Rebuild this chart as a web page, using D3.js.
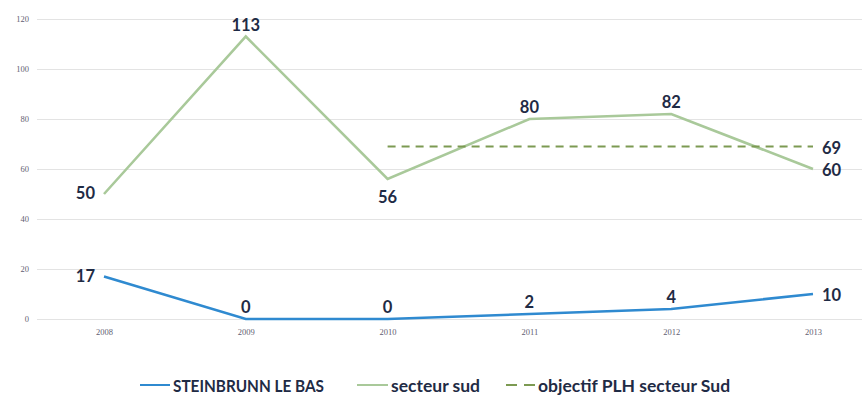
<!DOCTYPE html>
<html><head><meta charset="utf-8">
<script src="https://cdn.jsdelivr.net/npm/d3@7"></script>
<style>body{margin:0;background:#fff;}svg{display:block;}</style>
</head><body>
<svg id="chart" width="868" height="396"></svg>
<script>
const years = ["2008","2009","2010","2011","2012","2013"];
const steinbrunn = [17, 0, 0, 2, 4, 10];
const secteurSud = [50, 113, 56, 80, 82, 60];
const objectifYears = ["2010","2011","2012","2013"];
const objectifValue = 69;
const yTicks = [0, 20, 40, 60, 80, 100, 120];
const seriesNames = ["STEINBRUNN LE BAS", "secteur sud", "objectif PLH secteur Sud"];

const svg = d3.select("#chart");
const x = d3.scalePoint().domain(years).range([104, 813]);
const y = d3.scaleLinear().domain([0, 120]).range([319, 19]);

const labelColor = "#1f2b45";
const blue = "#2f8ad0";
const green = "#a9c99a";
const olive = "#7c9a52";

// gridlines
const yAxis = d3.axisLeft(y).tickValues(yTicks).tickSize(-(862 - 37)).tickPadding(8);
const gy = svg.append("g").attr("transform", "translate(37,0)").call(yAxis);
gy.select(".domain").remove();
gy.selectAll(".tick line").attr("stroke", "#e3e3e3").attr("stroke-width", 1.2);
gy.selectAll(".tick text").attr("fill", "#5f6072").style("font-family", "'Liberation Serif', serif").style("font-size", "8.5px");

// x axis labels
const xAxis = d3.axisBottom(x).tickSize(0).tickPadding(10);
const gx = svg.append("g").attr("transform", "translate(0,319)").call(xAxis);
gx.select(".domain").remove();
gx.selectAll(".tick text").attr("fill", "#5f6072").style("font-family", "'Liberation Serif', serif").style("font-size", "8.5px");

const line = d3.line().x((d, i) => x(years[i])).y(d => y(d));

// secteur sud
svg.append("path").datum(secteurSud).attr("d", line).attr("fill", "none")
  .attr("stroke", green).attr("stroke-width", 2.6).attr("stroke-linejoin", "miter");

// objectif
const objLine = d3.line().x(d => x(d)).y(() => y(objectifValue));
svg.append("path").datum(objectifYears).attr("d", objLine).attr("fill", "none")
  .attr("stroke", olive).attr("stroke-width", 2).attr("stroke-dasharray", "8,6");

// steinbrunn
svg.append("path").datum(steinbrunn).attr("d", line).attr("fill", "none")
  .attr("stroke", blue).attr("stroke-width", 2.6);

// labels
function lab(xp, yp, txt, anchor) {
  svg.append("text").attr("x", xp).attr("y", yp).attr("text-anchor", anchor)
    .attr("dominant-baseline", "central").attr("fill", labelColor)
    .style("font-family", "Lato, sans-serif").style("font-weight", "bold").style("font-size", "16.5px")
    .text(txt);
}
const sudPos = ["left", "above", "below", "above", "above", "right"];
const stPos = ["left", "above", "above", "above", "above", "right"];
function place(vals, pos) {
  vals.forEach((v, i) => {
    const px = x(years[i]), py = y(v);
    if (pos[i] === "left") lab(px - 9, py - 1, v, "end");
    else if (pos[i] === "right") lab(px + 9, py + 1, v, "start");
    else if (pos[i] === "above") lab(px, py - 12, v, "middle");
    else lab(px, py + 18, v, "middle");
  });
}
place(secteurSud, sudPos);
place(steinbrunn, stPos);
lab(x("2013") + 9, y(objectifValue) + 1, objectifValue, "start");

// legend
const legY = 385;
const legend = [
  {name: seriesNames[0], color: blue, dash: null, x1: 140, x2: 170, len: 151},
  {name: seriesNames[1], color: green, dash: null, x1: 357, x2: 388, len: null},
  {name: seriesNames[2], color: olive, dash: "11,7", x1: 506, x2: 535, len: null}
];
legend.forEach(l => {
  svg.append("line").attr("x1", l.x1).attr("x2", l.x2).attr("y1", legY).attr("y2", legY)
    .attr("stroke", l.color).attr("stroke-width", 2).attr("stroke-dasharray", l.dash);
  const t = svg.append("text").attr("x", l.x2 + 3).attr("y", legY).attr("dominant-baseline", "central")
    .attr("fill", labelColor).style("font-family", "Lato, sans-serif").style("font-weight", "bold")
    .style("font-size", "17.5px").text(l.name);
  if (l.len) t.attr("textLength", l.len).attr("lengthAdjust", "spacingAndGlyphs");
});
</script>
</body></html>
